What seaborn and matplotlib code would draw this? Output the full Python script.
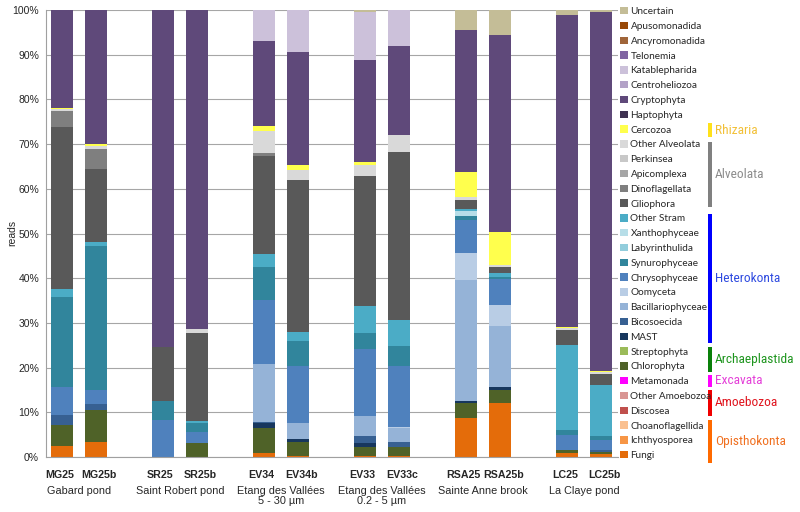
import pandas as pd
import matplotlib
matplotlib.use('Agg')
import matplotlib.pyplot as plt
from matplotlib.patches import Patch, Rectangle
from matplotlib.transforms import ScaledTranslation
from matplotlib import font_manager
import seaborn as sns

# samples and sites
samples = ['MG25', 'MG25b', 'SR25', 'SR25b', 'EV34', 'EV34b',
           'EV33', 'EV33c', 'RSA25', 'RSA25b', 'LC25', 'LC25b']
sites = ['Gabard pond', 'Saint Robert pond', 'Etang des Vallées\n5 - 30 µm',
         'Etang des Vallées\n0.2 - 5 µm', 'Sainte Anne brook', 'La Claye pond']
site_of = [0, 0, 1, 1, 2, 2, 3, 3, 4, 4, 5, 5]

# % of reads per taxon (same order as samples)
uncertain = [0, 0, 0, 0, 0, 0, 0.4, 0, 4.5, 5.6, 1.1, 0.4]
katablepharida = [0, 0, 0, 0, 6.9, 9.3, 10.8, 8.0, 0, 0, 0, 0]
cryptophyta = [22.0, 30.0, 75.3, 71.4, 19.1, 25.4, 22.9, 20.0, 31.9, 44.0, 69.8, 80.3]
cercozoa = [0.3, 0.5, 0, 0, 1.1, 1.1, 0.6, 0, 5.6, 7.4, 0.3, 0.3]
other_alveolata = [0.3, 0.5, 0, 0.9, 5.0, 2.2, 2.4, 3.7, 0.5, 0.6, 0.5, 0.5]
dinoflagellata = [3.6, 4.6, 0, 0, 0.5, 0, 0, 0, 0, 0, 0, 0]
ciliophora = [36.4, 16.3, 12.1, 19.7, 22.0, 34.1, 29.1, 37.7, 2.1, 1.3, 3.2, 2.5]
other_stram = [1.6, 0.9, 0, 0.3, 3.0, 1.9, 6.0, 5.8, 0.5, 0.8, 19.1, 11.3]
xanthophyceae = [0, 0, 0, 0, 0, 0, 0, 0, 1.0, 0, 0, 0]
synurophyceae = [20.2, 32.2, 4.3, 2.0, 7.3, 5.6, 3.6, 4.4, 1.0, 0.5, 1.1, 0.8]
chrysophyceae = [6.3, 3.2, 8.3, 2.5, 14.3, 12.9, 15.0, 13.6, 7.3, 5.8, 3.3, 2.4]
oomyceta = [0, 0, 0, 0, 0, 0, 0, 0.3, 6.1, 4.8, 0, 0]
bacillariophyceae = [0, 0, 0, 0, 13.0, 3.5, 4.5, 3.1, 27.1, 13.5, 0, 0]
bicosoecida = [2.2, 1.3, 0, 0, 0.3, 0, 1.5, 1.1, 0, 0, 0, 0.3]
mast = [0, 0, 0, 0, 1.1, 0.7, 0.9, 0, 0.5, 0.6, 0, 0]
chlorophyta = [4.7, 7.1, 0, 3.2, 5.4, 3.0, 2.0, 2.1, 3.3, 3.1, 0.8, 0.6]
fungi = [2.5, 3.4, 0, 0, 1.0, 0.3, 0.3, 0.2, 8.7, 12.0, 0.8, 0.6]
zero = [0] * 12

taxa = ['Uncertain', 'Apusomonadida', 'Ancyromonadida', 'Telonemia', 'Katablepharida',
        'Centroheliozoa', 'Cryptophyta', 'Haptophyta', 'Cercozoa', 'Other Alveolata',
        'Perkinsea', 'Apicomplexa', 'Dinoflagellata', 'Ciliophora', 'Other Stram',
        'Xanthophyceae', 'Labyrinthulida', 'Synurophyceae', 'Chrysophyceae', 'Oomyceta',
        'Bacillariophyceae', 'Bicosoecida', 'MAST', 'Streptophyta', 'Chlorophyta',
        'Metamonada', 'Other Amoebozoa', 'Discosea', 'Choanoflagellida', 'Ichthyosporea',
        'Fungi']
values = [uncertain, zero, zero, zero, katablepharida, zero, cryptophyta, zero, cercozoa,
          other_alveolata, zero, zero, dinoflagellata, ciliophora, other_stram, xanthophyceae,
          zero, synurophyceae, chrysophyceae, oomyceta, bacillariophyceae, bicosoecida, mast,
          zero, chlorophyta, zero, zero, zero, zero, zero, fungi]
colors = ['#C4BD97', '#984807', '#A0653A', '#8064A2', '#CCC1DA', '#B3A2C7', '#5F497A',
          '#3F3151', '#FFFF4D', '#D9D9D9', '#C8C8C8', '#A6A6A6', '#7F7F7F', '#595959',
          '#4BACC6', '#B7DEE8', '#92CDDC', '#31859C', '#4F81BD', '#B9CDE5', '#95B3D7',
          '#376092', '#17375E', '#9BBB59', '#4F6228', '#FF00FF', '#D99694', '#C0504D',
          '#FAC090', '#F79646', '#E46C0A']

supergroups = ['Rhizaria', 'Alveolata', 'Heterokonta', 'Archaeplastida', 'Excavata',
               'Amoebozoa', 'Opisthokonta']
sg_bar_colors = ['#FFE11A', '#808080', '#0000FF', '#0A800A', '#FF00FF', '#F00000', '#FF6A00']
sg_text_colors = ['#F2C037', '#8C8C8C', '#2F4BE0', '#1E951E', '#E43FD8', '#E0141E', '#F07020']

# long table for seaborn
pos = [3 * g + (i % 2) for i, g in enumerate(site_of)]
rows = []
for t, v in zip(taxa, values):
    for p, x in zip(pos, v):
        if x > 0:
            rows.append({'pos': p, 'taxon': t, 'pct': x})
df = pd.DataFrame(rows)
palette = dict(zip(taxa, colors))

sns.set_style('white')
names = {f.name for f in font_manager.fontManager.ttflist}
narrow = None
for cand in ['Liberation Sans Narrow', 'Roboto Condensed', 'Open Sans Condensed', 'DejaVu Sans Condensed']:
    if cand in names:
        narrow = cand
        break
plt.rcParams['font.family'] = ['Liberation Sans', 'DejaVu Sans']

fig = plt.figure(figsize=(8, 5.12), dpi=100)
ax = fig.add_axes([46 / 800, 1 - 457 / 512, 572 / 800, 447 / 512])

sns.histplot(data=df, x='pos', weights='pct', hue='taxon', hue_order=taxa,
             palette=palette, multiple='stack', discrete=True, shrink=0.65,
             alpha=1, linewidth=0, legend=False, ax=ax)

ax.set_xlim(-0.47, 16.5)
ax.set_ylim(0, 100)
ax.set_yticks(range(0, 101, 10))
ax.set_yticklabels([f'{v}%' for v in range(0, 101, 10)], fontsize=7.5)
ax.set_xticks(pos)
ax.set_xticklabels(samples, fontsize=7.7, fontweight='bold')
ax.tick_params(axis='x', length=0, pad=9)
ax.tick_params(axis='y', length=3, color='#A0A0A0', pad=2)
# spread each pair of sample labels a little, as in the original
for i, lab in enumerate(ax.get_xticklabels()):
    dx = -2.5 if i % 2 == 0 else 3.5
    lab.set_transform(lab.get_transform() + ScaledTranslation(dx / 100, 0, fig.dpi_scale_trans))
ax.set_xlabel('')
ax.set_ylabel('')
ax.yaxis.grid(True, color='#A6A6A6', linewidth=0.8)
ax.set_axisbelow(True)
for s in ['top', 'right']:
    ax.spines[s].set_visible(False)
for s in ['left', 'bottom']:
    ax.spines[s].set_color('#A0A0A0')
    ax.spines[s].set_linewidth(0.8)

fig.text(12 / 800, 1 - 233 / 512, 'reads', rotation=90, ha='center', va='center', fontsize=7.5)

for g, name in enumerate(sites):
    ax.text(3 * g + 0.5, -0.064, name, transform=ax.get_xaxis_transform(),
            ha='center', va='top', fontsize=7.8, linespacing=1.05)

handles = [Patch(facecolor=c, edgecolor='none', label=t) for t, c in zip(taxa, colors)]
fig.legend(handles=handles, loc='upper left', bbox_to_anchor=(620 / 800, 1 - 7 / 512),
           frameon=False, prop={'family': ['Lato', 'DejaVu Sans'], 'size': 7.2},
           handlelength=0.75, handleheight=0.75, handletextpad=0.3,
           labelspacing=0.565, borderpad=0, borderaxespad=0)

# supergroup brackets
sg_spans = [(123, 137), (142, 207), (214, 343), (347, 372), (375, 387), (390, 416), (420, 463)]
for (y0, y1), lab, bc, tc in zip(sg_spans, supergroups, sg_bar_colors, sg_text_colors):
    fig.add_artist(Rectangle((708 / 800, 1 - y1 / 512), 4 / 800, (y1 - y0) / 512,
                             transform=fig.transFigure, color=bc, lw=0))
    if narrow:
        fig.text(715 / 800, 1 - (y0 + y1) / 2 / 512, lab, color=tc, fontsize=9.6,
                 family=narrow, va='center', ha='left')
    else:
        fig.text(715 / 800, 1 - (y0 + y1) / 2 / 512, lab, color=tc, fontsize=9.2,
                 va='center', ha='left')

fig.savefig('out.png', dpi=100)
